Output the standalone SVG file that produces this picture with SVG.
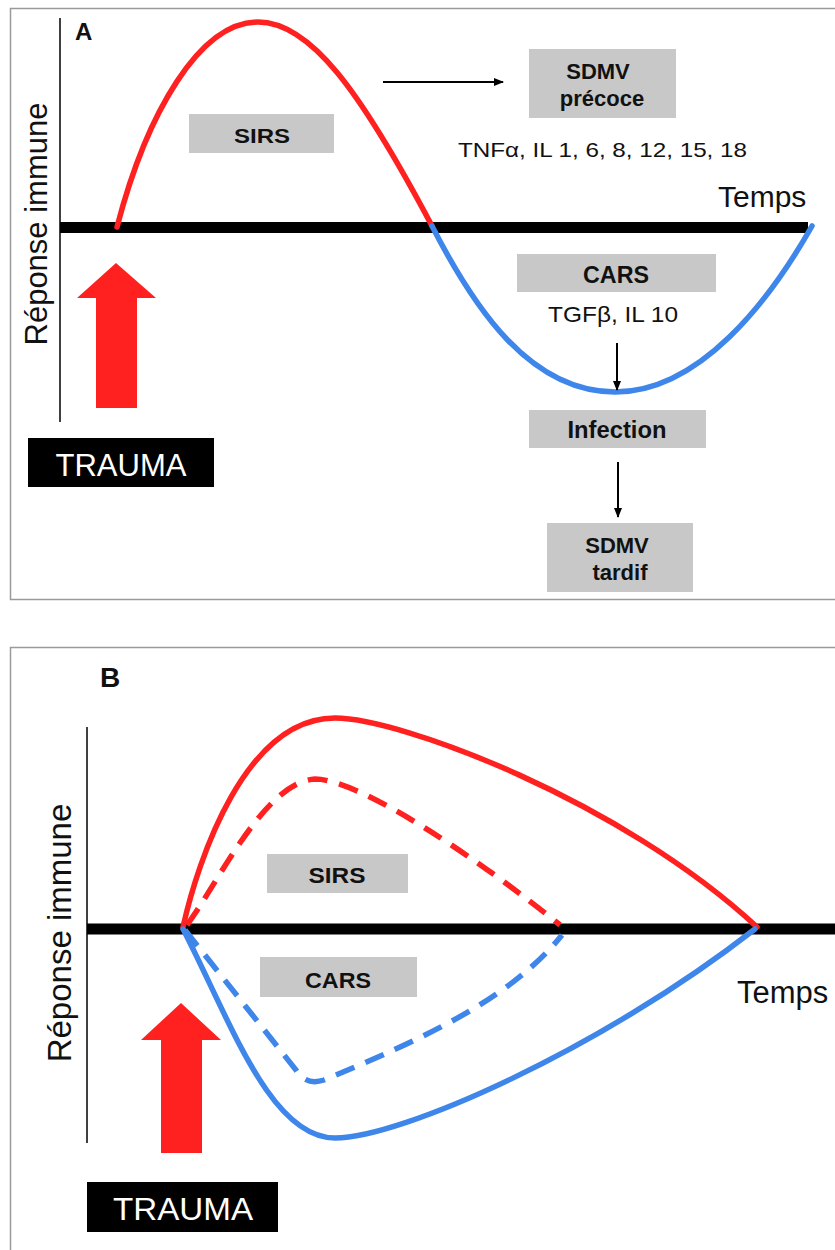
<svg xmlns="http://www.w3.org/2000/svg" width="835" height="1250" viewBox="0 0 835 1250">
<style>
.frame{fill:none;stroke:#9a9a9a;stroke-width:1.5}
.axis{stroke:#000;stroke-width:1.5}
.base{stroke:#000;stroke-width:11}
.red{fill:none;stroke:#ff2020;stroke-width:5.5;stroke-linecap:round}
.blue{fill:none;stroke:#3f86ea;stroke-width:5.5;stroke-linecap:round}
.dash{stroke-dasharray:20 12;stroke-linecap:butt}
.box{fill:#c8c8c8}
.lbl{font-family:"Liberation Sans",Arial,sans-serif;font-weight:bold;fill:#111;text-anchor:middle}
.txt{font-family:"Liberation Sans",Arial,sans-serif;fill:#111}
.conn{stroke:#000;stroke-width:2;fill:none}
.bigarrow{fill:#ff2020}
.trauma{fill:#000}
.ttxt{font-family:"Liberation Sans",Arial,sans-serif;fill:#fff;text-anchor:middle}
</style>
<defs>
<marker id="ah" markerWidth="10" markerHeight="10" refX="9" refY="5" orient="auto" markerUnits="userSpaceOnUse">
<path d="M0,1 L10,5 L0,9 Z" fill="#000"/>
</marker>
</defs>
<rect width="835" height="1250" fill="#fff"/>

<!-- Panel A -->
<g id="panelA">
<rect class="frame" x="10.5" y="8.5" width="840" height="591"/>
<text class="txt" x="75" y="40" font-size="24" font-weight="bold">A</text>
<line class="axis" x1="60" y1="18" x2="60" y2="422"/>
<text class="txt" font-size="31" text-anchor="middle" transform="translate(47,224) rotate(-90)">Réponse immune</text>
<line class="base" x1="60" y1="227.5" x2="808" y2="227.5"/>
<text class="txt" x="718" y="207" font-size="30">Temps</text>
<path id="curveA-sirs" class="red" d="M117,227 C147,112 200,22 258,22 C310,22 360,90 432,226"/>
<path id="curveA-cars" class="blue" d="M432,226 C474,308 530,392 615,392 C700,392 770,300 812,226"/>
</g>

<g id="traumaArrowA">
<path class="bigarrow" d="M116,263 L156,298 L137,298 L137,408 L96,408 L96,298 L77,298 Z"/>
</g>
<g id="traumaA">
<rect class="trauma" x="28" y="438" width="186" height="49"/>
<text class="ttxt" x="121" y="476" font-size="31" textLength="131" lengthAdjust="spacingAndGlyphs">TRAUMA</text>
</g>
<g id="sirsA">
<rect class="box" x="189" y="114" width="145" height="39"/>
<text class="lbl" x="262" y="143" font-size="21" textLength="56" lengthAdjust="spacingAndGlyphs">SIRS</text>
</g>
<g id="sdmvPrecoce">
<rect class="box" x="529" y="49" width="147" height="69"/>
<text class="lbl" x="598" y="79" font-size="22">SDMV</text>
<text class="lbl" x="602" y="106" font-size="22">précoce</text>
</g>
<g id="cytokinesPro">
<text class="txt" x="458" y="157" font-size="21" textLength="289" lengthAdjust="spacingAndGlyphs">TNFα, IL 1, 6, 8, 12, 15, 18</text>
</g>
<g id="carsA">
<rect class="box" x="517" y="254" width="199" height="38"/>
<text class="lbl" x="616" y="283" font-size="23" textLength="66" lengthAdjust="spacingAndGlyphs">CARS</text>
</g>
<g id="cytokinesAnti">
<text class="txt" x="548" y="322" font-size="22" textLength="130" lengthAdjust="spacingAndGlyphs">TGFβ, IL 10</text>
</g>
<g id="infection">
<rect class="box" x="529" y="410" width="177" height="38"/>
<text class="lbl" x="617" y="438" font-size="23" textLength="99" lengthAdjust="spacingAndGlyphs">Infection</text>
</g>
<g id="sdmvTardif">
<rect class="box" x="547" y="523" width="146" height="69"/>
<text class="lbl" x="617" y="553" font-size="22">SDMV</text>
<text class="lbl" x="620" y="580" font-size="22">tardif</text>
</g>

<!-- Panel B -->
<g id="panelB">
<rect class="frame" x="10.5" y="647.5" width="840" height="620"/>
<text class="txt" x="100" y="687" font-size="28" font-weight="bold">B</text>
<line class="axis" x1="87" y1="727" x2="87" y2="1143"/>
<text class="txt" font-size="33" text-anchor="middle" transform="translate(71,933) rotate(-90)">Réponse immune</text>
<line class="base" x1="87" y1="929" x2="835" y2="929"/>
<text class="txt" x="737" y="1003" font-size="31">Temps</text>
<path id="curveB-sirs-dash" class="red dash" d="M187,925 C220,880 265,782 315,779 C360,779 480,860 560,925"/>
<path id="curveB-cars-dash" class="blue dash" d="M185,930 L296,1070 Q306,1086 324,1080 C420,1040 510,1000 562,935"/>
<path id="curveB-sirs" class="red" d="M183,927 C198,860 245,718 335,718 C400,718 620,800 757,927"/>
<path id="curveB-cars" class="blue" d="M183,929 C230,1020 270,1138 335,1138 C400,1138 600,1050 755,929"/>
</g>
<g id="sirsB">
<rect class="box" x="267" y="854" width="141" height="39"/>
<text class="lbl" x="337" y="883" font-size="22" textLength="57" lengthAdjust="spacingAndGlyphs">SIRS</text>
</g>
<g id="carsB">
<rect class="box" x="260" y="957" width="157" height="40"/>
<text class="lbl" x="338" y="988" font-size="22" textLength="66" lengthAdjust="spacingAndGlyphs">CARS</text>
</g>
<g id="traumaArrowB">
<path class="bigarrow" d="M181,1003 L221,1040 L202,1040 L202,1153 L161,1153 L161,1040 L141,1040 Z"/>
</g>
<g id="traumaB">
<rect class="trauma" x="87" y="1182" width="191" height="50"/>
<text class="ttxt" x="183" y="1220" font-size="32" textLength="140" lengthAdjust="spacingAndGlyphs">TRAUMA</text>
</g>

<g id="connectors">
<line class="conn" x1="383" y1="82" x2="503" y2="82" marker-end="url(#ah)"/>
<line class="conn" x1="617" y1="343" x2="617" y2="390" marker-end="url(#ah)"/>
<line class="conn" x1="618" y1="462" x2="618" y2="517" marker-end="url(#ah)"/>
</g>
</svg>
